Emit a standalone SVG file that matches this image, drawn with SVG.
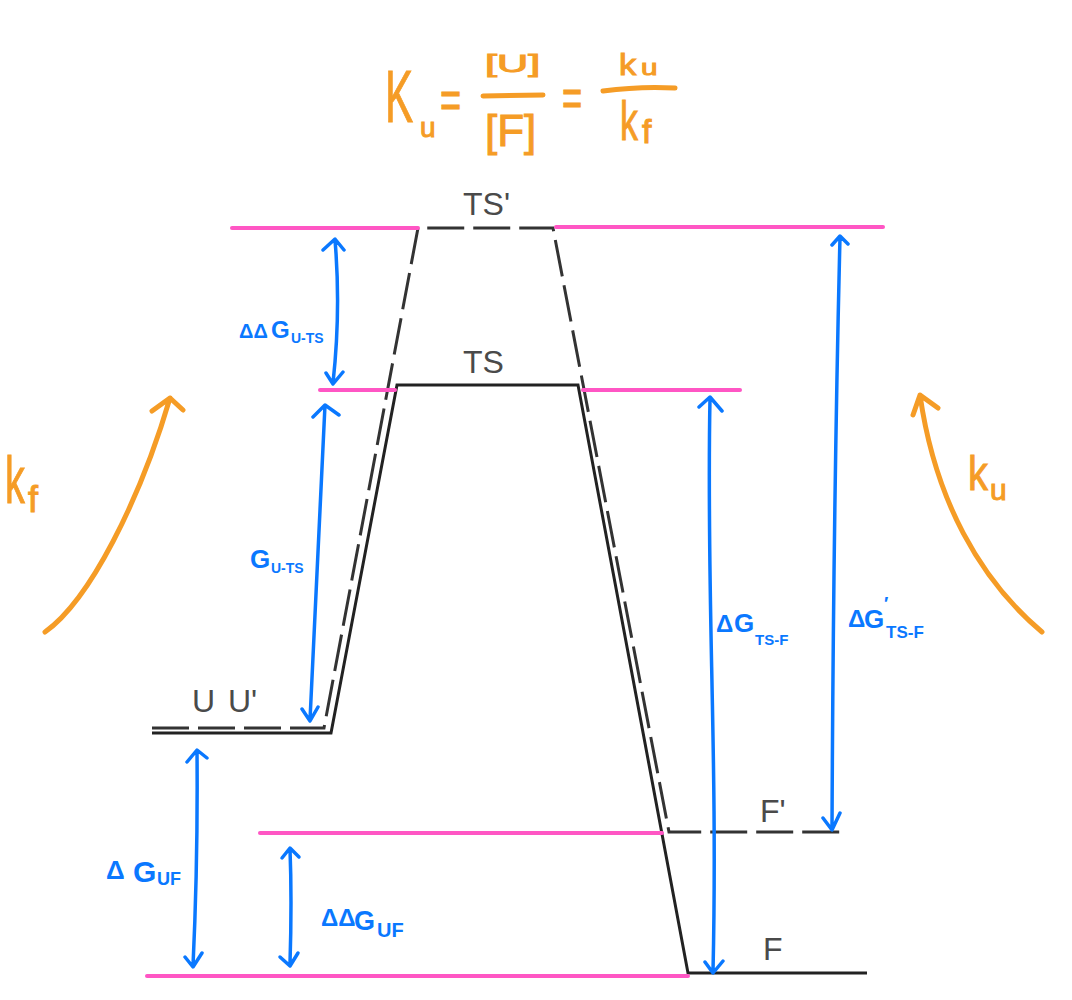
<svg xmlns="http://www.w3.org/2000/svg" width="1072" height="1000" viewBox="0 0 1072 1000">
<style>
.solid{stroke:#222;stroke-width:3;fill:none;stroke-linejoin:miter}
.dash{stroke:#333;stroke-width:3;fill:none;stroke-dasharray:37 9}
.pink{stroke:#ff56c4;stroke-width:4;stroke-linecap:round;fill:none}
.blue{stroke:#0a78ff;stroke-width:3.5;fill:none;stroke-linecap:round;stroke-linejoin:round}
.orange{stroke:#f59c26;stroke-width:5;fill:none;stroke-linecap:round;stroke-linejoin:round}
.lbl{font-family:"Liberation Sans",Arial,sans-serif;font-size:32px;fill:#4a4a4a}
.bt{font-family:"Liberation Sans",Arial,sans-serif;fill:#0a78ff;font-weight:bold}
.ot{font-family:"Liberation Sans",Arial,sans-serif;fill:#f59c26;stroke:#f59c26;stroke-width:1}
</style>
<rect width="1072" height="1000" fill="#fff"/>

<g id="profile">
  <path class="dash" d="M152,728 H324 L418,228 H553 L669,832 H845"/>
  <path class="solid" d="M152,733 H331 L397,385 H578 L688,973 H867"/>
</g>

<g id="levels">
  <g id="level-TSprime"><line class="pink" x1="232" y1="228" x2="418" y2="228"/><line class="pink" x1="556" y1="227" x2="883" y2="227"/></g>
  <g id="level-TS"><line class="pink" x1="320" y1="390" x2="395" y2="390"/><line class="pink" x1="583" y1="390" x2="740" y2="390"/></g>
  <g id="level-Fprime"><line class="pink" x1="260" y1="833" x2="662" y2="833"/></g>
  <g id="level-F"><line class="pink" x1="147" y1="976" x2="688" y2="976"/></g>
</g>

<g id="state-labels">
  <text id="lbl-TSprime" class="lbl" x="463" y="215">TS'</text>
  <text id="lbl-TS" class="lbl" x="463" y="373">TS</text>
  <text id="lbl-UU" class="lbl" x="192" y="712">U <tspan x="228">U'</tspan></text>
  <text id="lbl-Fprime" class="lbl" x="760" y="822">F'</text>
  <text id="lbl-F" class="lbl" x="763" y="960">F</text>
</g>

<g id="connectors">
  <path class="blue" d="M335,240 Q341,310 333,383 M323,250 L335,239 L344,250 M326,373 L333,384 L343,372"/>
  <path class="blue" d="M325,405 Q318,560 310,720 M313,417 L325,405 L339,415 M302,709 L310,721 L318,707"/>
  <path class="blue" d="M197,751 Q198,860 193,966 M187,762 L197,750 L207,758 M185,957 L193,967 L202,953"/>
  <path class="blue" d="M290,849 Q292,900 290,964 M282,858 L290,848 L299,857 M280,957 L290,966 L298,953"/>
  <path class="blue" d="M710,398 C706,600 718,750 713,972 M699,407 L710,397 L722,411 M705,962 L713,973 L723,961"/>
  <path class="blue" d="M840,237 C836,400 833,600 832,830 M832,245 L840,236 L848,244 M823,818 L832,830 L840,813"/>
  <path class="orange" d="M45,632 C90,600 140,500 170,398 M152,411 L170,398 L183,410"/>
  <path class="orange" d="M1042,632 C980,580 935,500 920,395 M913,415 L920,395 L938,408"/>
</g>

<g id="energy-labels">
  <text class="bt" x="239" y="338"><tspan font-size="20">ΔΔ</tspan><tspan x="271" font-size="24">G</tspan><tspan x="291" y="343" font-size="14">U-TS</tspan></text>
  <text class="bt" x="250" y="568"><tspan font-size="26">G</tspan><tspan x="271" y="573" font-size="14">U-TS</tspan></text>
  <text class="bt" x="106" y="879"><tspan font-size="26">Δ</tspan><tspan x="133" y="882" font-size="30">G</tspan><tspan x="157" y="885" font-size="18">UF</tspan></text>
  <text class="bt" x="321" y="926"><tspan font-size="24">ΔΔ</tspan><tspan x="354" y="930" font-size="27">G</tspan><tspan x="377" y="937" font-size="20">UF</tspan></text>
  <text class="bt" x="716" y="632"><tspan font-size="24">Δ</tspan><tspan x="734" font-size="26">G</tspan><tspan x="755" y="645" font-size="15">TS-F</tspan></text>
  <text class="bt" x="848" y="627"><tspan font-size="24">Δ</tspan><tspan x="864" y="628" font-size="26">G</tspan><tspan x="884" y="610" font-size="18">′</tspan><tspan x="886" y="638" font-size="17">TS-F</tspan></text>
</g>

<g id="rate-labels">
  <text class="ot" transform="translate(5,503) scale(0.6,1)" font-size="66">k</text>
  <text class="ot" x="28" y="512" font-size="36">f</text>
  <text class="ot" transform="translate(968,490) scale(0.83,1)" font-size="48">k</text>
  <text class="ot" x="990" y="500" font-size="30">u</text>
</g>

<g id="equation">
  <text class="ot" transform="translate(385,122) scale(0.57,1)" font-size="74">K</text>
  <text class="ot" x="420" y="137" font-size="28">u</text>
  <text class="ot" transform="translate(440,118) scale(0.67,1)" font-size="54">=</text>
  <text class="ot" transform="translate(485,72) scale(1.8,1)" font-size="24">[U]</text>
  <path class="orange" d="M483,96 L543,95"/>
  <text class="ot" x="485" y="146" font-size="44">[F]</text>
  <text class="ot" transform="translate(562,116) scale(0.64,1)" font-size="54">=</text>
  <text class="ot" transform="translate(619,75) scale(1.15,1)" font-size="30">k</text>
  <text class="ot" transform="translate(641,75) scale(1.35,1)" font-size="22">u</text>
  <path class="orange" d="M603,91 Q640,86 675,88"/>
  <text class="ot" transform="translate(620,140) scale(0.64,1)" font-size="56">k</text>
  <text class="ot" x="642" y="143" font-size="34">f</text>
</g>
</svg>
